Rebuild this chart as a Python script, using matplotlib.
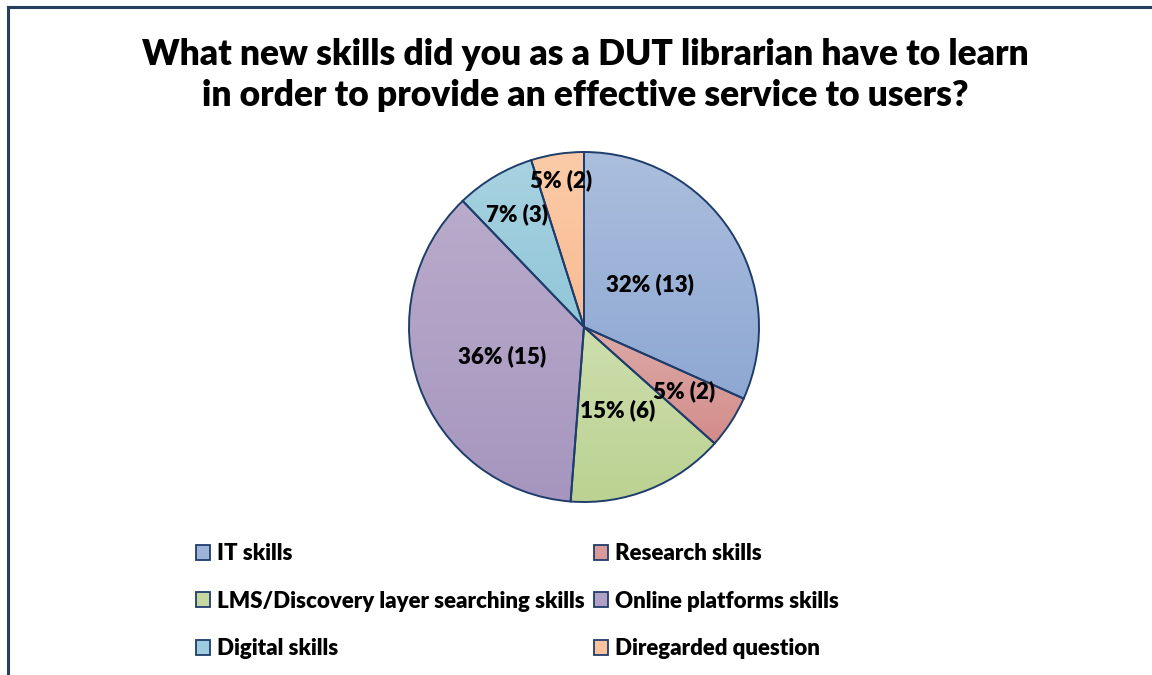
import numpy as np
import matplotlib.pyplot as plt
from matplotlib.colors import LinearSegmentedColormap, to_rgb
from matplotlib.patches import Patch
from matplotlib.lines import Line2D

# ---- data ----
categorias = ['IT skills', 'Research skills', 'LMS/Discovery layer searching skills',
              'Online platforms skills', 'Digital skills', 'Diregarded question']
respuestas = [13, 2, 6, 15, 3, 2]
porcentajes = [32, 5, 15, 36, 7, 5]   # as printed on the labels

# gradient fills (top colour, bottom colour) per slice
colores_top = ['#abbedd', '#dcaaa8', '#cddeac', '#b9abcb', '#a8d2e0', '#fbcba8']
colores_bot = ['#8ea8d3', '#d38c8a', '#bbd292', '#a696bf', '#90c6d9', '#f9bb92']
borde = '#1f3d6b'

plt.rcParams['font.family'] = ['Lato', 'DejaVu Sans']
peso = 'heavy'

fig = plt.figure(figsize=(11.52, 6.75), dpi=100)
W, H = 1152, 675

# outer chart frame (only left and top edges fall inside the image)
for xs, ys in [([8 / W, 8 / W], [0, 1 - 7 / H]), ([8 / W, 1], [1 - 7 / H, 1 - 7 / H])]:
    fig.lines.append(Line2D(xs, ys, transform=fig.transFigure, color='#243f60',
                            linewidth=2.2, solid_capstyle='projecting'))

fig.text(0.508, 1 - 75 / H, 'What new skills did you as a DUT librarian have to learn\n'
         'in order to provide an effective service to users?',
         ha='center', va='center', fontsize=25.5, fontweight=peso, linespacing=1.33)

# ---- pie ----
cx, cy, r = 584, 327, 175
ax = fig.add_axes([(cx - r) / W, (H - cy - r) / H, 2 * r / W, 2 * r / H])
wedges, _ = ax.pie(respuestas, startangle=90, counterclock=False, radius=1,
                   colors=colores_bot,
                   wedgeprops=dict(edgecolor=borde, linewidth=1.4, clip_on=False))

grad = np.linspace(0, 1, 256).reshape(-1, 1)
for w, c0, c1 in zip(wedges, colores_top, colores_bot):
    verts = w.get_path().vertices
    x0, x1 = verts[:, 0].min(), verts[:, 0].max()
    y0, y1 = verts[:, 1].min(), verts[:, 1].max()
    cmap = LinearSegmentedColormap.from_list('g', [c0, c1])
    im = ax.imshow(grad, cmap=cmap, extent=[x0, x1, y0, y1], aspect='auto',
                   origin='upper', zorder=w.get_zorder() + 0.1)
    im.set_clip_path(w)
    w.set_facecolor('none')
    w.set_zorder(w.get_zorder() + 0.2)

# data labels along each wedge's mid angle
dist = [0.45, 0.68, 0.51, 0.50, 0.75, 0.85]
for w, p, n, d in zip(wedges, porcentajes, respuestas, dist):
    ang = np.deg2rad((w.theta1 + w.theta2) / 2)
    ax.text(d * np.cos(ang), d * np.sin(ang), f'{p}% ({n})', ha='center', va='center',
            fontsize=16, fontweight=peso, zorder=10)

ax.set_xlim(-1, 1)
ax.set_ylim(-1, 1)
ax.set_aspect('equal')
ax.axis('off')

# ---- legend, filled row by row ----
handles = [Patch(facecolor=(np.array(to_rgb(a)) + np.array(to_rgb(b))) / 2,
                 edgecolor=borde, linewidth=1.3)
           for a, b in zip(colores_top, colores_bot)]
orden = [0, 2, 4, 1, 3, 5]
leg = fig.legend([handles[i] for i in orden], [categorias[i] for i in orden],
                 ncol=2, loc='upper left', bbox_to_anchor=(196 / W, 1 - 543 / H),
                 frameon=False, prop=dict(size=16, weight=peso),
                 handlelength=0.65, handleheight=0.65,
                 handletextpad=0.3, columnspacing=0.4, labelspacing=1.2,
                 borderaxespad=0, borderpad=0)

fig.savefig('out.png', dpi=100)
